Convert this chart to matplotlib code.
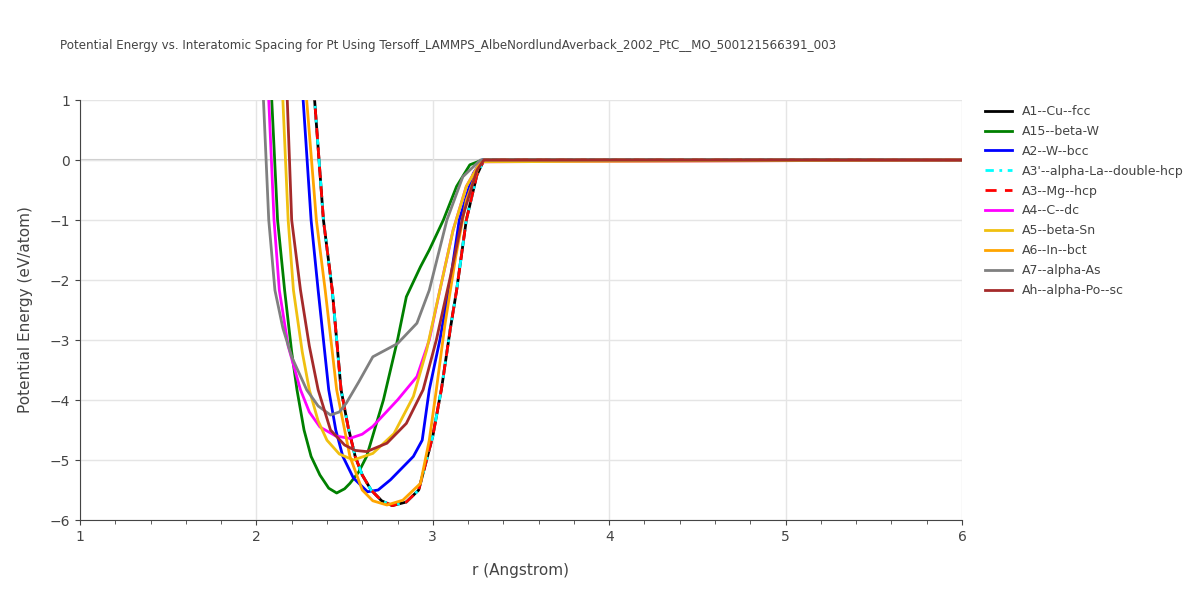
import numpy as np
import matplotlib
matplotlib.use("Agg")
import matplotlib.pyplot as plt

TITLE = "Potential Energy vs. Interatomic Spacing for Pt Using Tersoff_LAMMPS_AlbeNordlundAverback_2002_PtC__MO_500121566391_003"

# values: (r, E) pairs per structure
fcc_r = [2.31, 2.33, 2.38, 2.43, 2.48, 2.52, 2.56, 2.60, 2.65, 2.71, 2.77, 2.85, 2.92, 2.97, 3.00, 3.05, 3.10, 3.135, 3.19, 3.25, 3.29, 6.0]
fcc_e = [1.5, 1.0, -1.0, -2.17, -3.83, -4.45, -4.94, -5.25, -5.5, -5.68, -5.76, -5.7, -5.5, -4.94, -4.6, -3.8, -2.8, -2.17, -1.0, -0.25, 0.0, 0.0]

a15_r = [2.08, 2.087, 2.12, 2.16, 2.20, 2.23, 2.27, 2.31, 2.36, 2.41, 2.455, 2.50, 2.53, 2.58, 2.625, 2.72, 2.80, 2.85, 2.93, 2.98, 3.06, 3.135, 3.21, 3.28, 6.0]
a15_e = [1.5, 1.0, -1.0, -2.17, -3.2, -3.83, -4.5, -4.94, -5.25, -5.47, -5.55, -5.48, -5.39, -5.2, -4.94, -4.0, -3.0, -2.28, -1.78, -1.5, -1.0, -0.44, -0.08, 0.0, 0.0]

bcc_r = [2.26, 2.265, 2.31, 2.35, 2.41, 2.45, 2.49, 2.55, 2.63, 2.69, 2.76, 2.89, 2.94, 2.98, 3.04, 3.10, 3.15, 3.23, 3.28, 6.0]
bcc_e = [1.5, 1.0, -1.0, -2.17, -3.83, -4.5, -4.94, -5.3, -5.53, -5.5, -5.33, -4.94, -4.67, -3.83, -3.0, -2.0, -1.0, -0.22, 0.0, 0.0]

dc_r = [2.06, 2.07, 2.10, 2.13, 2.18, 2.25, 2.30, 2.36, 2.45, 2.53, 2.60, 2.66, 2.80, 2.91, 2.98, 3.04, 3.115, 3.19, 3.27, 6.0]
dc_e = [1.5, 1.0, -1.0, -2.17, -3.1, -3.83, -4.2, -4.45, -4.6, -4.64, -4.57, -4.44, -4.0, -3.61, -3.0, -2.17, -1.17, -0.44, -0.03, 0.0]

betasn_r = [2.14, 2.15, 2.18, 2.21, 2.26, 2.30, 2.35, 2.40, 2.47, 2.55, 2.66, 2.78, 2.89, 2.965, 3.04, 3.115, 3.19, 3.27, 6.0]
betasn_e = [1.5, 1.0, -1.0, -2.17, -3.2, -3.83, -4.35, -4.67, -4.9, -5.0, -4.89, -4.56, -3.94, -3.17, -2.17, -1.17, -0.44, -0.03, 0.0]

bct_r = [2.28, 2.285, 2.34, 2.39, 2.455, 2.53, 2.60, 2.66, 2.74, 2.83, 2.93, 2.98, 3.02, 3.07, 3.13, 3.19, 3.27, 3.29, 6.0]
bct_e = [1.5, 1.0, -1.0, -2.17, -3.83, -4.94, -5.5, -5.68, -5.75, -5.67, -5.39, -4.67, -3.83, -2.72, -1.61, -0.67, -0.03, 0.0, 0.0]

alphaas_r = [2.03, 2.04, 2.07, 2.105, 2.15, 2.20, 2.285, 2.35, 2.42, 2.47, 2.51, 2.58, 2.66, 2.80, 2.91, 2.98, 3.08, 3.17, 3.27, 6.0]
alphaas_e = [1.5, 1.0, -1.0, -2.17, -2.8, -3.28, -3.83, -4.1, -4.25, -4.2, -4.05, -3.7, -3.28, -3.06, -2.72, -2.17, -1.0, -0.28, 0.0, 0.0]

sc_r = [2.17, 2.175, 2.20, 2.25, 2.30, 2.35, 2.42, 2.50, 2.56, 2.625, 2.74, 2.85, 2.945, 3.02, 3.10, 3.17, 3.25, 3.29, 6.0]
sc_e = [1.5, 1.0, -1.0, -2.17, -3.1, -3.83, -4.5, -4.75, -4.84, -4.86, -4.72, -4.39, -3.83, -3.0, -1.94, -0.94, -0.17, 0.0, 0.0]

series = [
    ("A1--Cu--fcc", fcc_r, fcc_e, "black", "-"),
    ("A15--beta-W", a15_r, a15_e, "green", "-"),
    ("A2--W--bcc", bcc_r, bcc_e, "blue", "-"),
    ("A3'--alpha-La--double-hcp", fcc_r, fcc_e, "cyan", (0, (3, 2, 1, 2))),
    ("A3--Mg--hcp", fcc_r, fcc_e, "red", (0, (4, 3))),
    ("A4--C--dc", dc_r, dc_e, "magenta", "-"),
    ("A5--beta-Sn", betasn_r, betasn_e, "#f0c010", "-"),
    ("A6--In--bct", bct_r, bct_e, "orange", "-"),
    ("A7--alpha-As", alphaas_r, alphaas_e, "gray", "-"),
    ("Ah--alpha-Po--sc", sc_r, sc_e, "brown", "-"),
]

fig = plt.figure(figsize=(12, 6), dpi=100)
ax = fig.add_axes([80 / 1200, 80 / 600, 882 / 1200, 420 / 600])

for name, r, e, c, ls in series:
    ax.plot(r, e, color=c, linestyle=ls, linewidth=2, label=name)

ax.axhline(0, color="#cccccc", linewidth=1.5, zorder=0)
ax.set_xlim(1, 6)
ax.set_ylim(-6, 1)
ax.set_xticks([1, 2, 3, 4, 5, 6])
ax.set_xticks(np.arange(1, 6.01, 0.2), minor=True)
ax.set_yticks(range(-6, 2))
ax.set_yticklabels(["\u22126", "\u22125", "\u22124", "\u22123", "\u22122", "\u22121", "0", "1"])
ax.grid(True, which="major", color="#e5e5e5", linewidth=1)
ax.set_axisbelow(True)
for s in ["top", "right"]:
    ax.spines[s].set_visible(False)
for s in ["left", "bottom"]:
    ax.spines[s].set_color("#444444")
ax.tick_params(colors="#444444", labelsize=10)
ax.tick_params(which="minor", length=3, color="#444444")
ax.set_xlabel("r (Angstrom)", color="#444444", fontsize=11, labelpad=14)
ax.set_ylabel("Potential Energy (eV/atom)", color="#444444", fontsize=11, labelpad=12)

fig.text(60 / 1200, 1 - 46 / 600, TITLE, fontsize=8.6, color="#444444", va="center")
leg = ax.legend(loc="upper left", bbox_to_anchor=(1.02, 1.0), frameon=False, fontsize=9,
                handlelength=2.2, labelspacing=0.55, borderaxespad=0)
for t in leg.get_texts():
    t.set_color("#444444")

fig.savefig("out.png")
